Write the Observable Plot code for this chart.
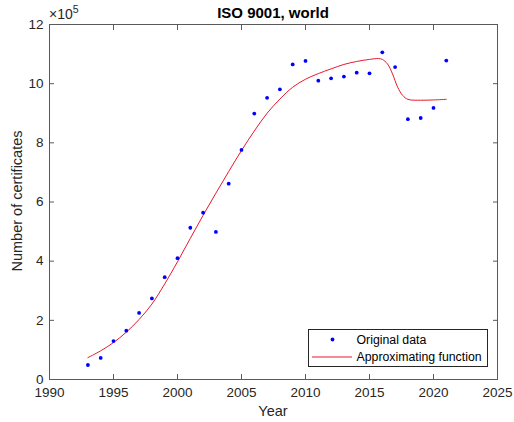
<!DOCTYPE html>
<html>
<head>
<meta charset="utf-8">
<script src="https://cdn.jsdelivr.net/npm/d3@7"></script>
<script src="https://cdn.jsdelivr.net/npm/@observablehq/plot@0.6"></script>
<style>
  html, body { margin: 0; padding: 0; background: #fff; }
  svg { display: block; }
</style>
</head>
<body>
<div id="chart"></div>
<script>
// Original data (number of ISO 9001 certificates, world)
const years = [1993,1994,1995,1996,1997,1998,1999,2000,2001,2002,2003,2004,2005,2006,2007,2008,2009,2010,2011,2012,2013,2014,2015,2016,2017,2018,2019,2020,2021];
const certificates = [49000,73000,130000,165000,225000,274000,346000,410000,513000,564000,499000,662000,776000,899000,952000,981000,1065000,1077000,1010000,1018000,1024000,1037000,1035000,1106000,1056000,880000,884000,918000,1078000];

// Approximating function
const fitYears = [1993,1994,1995,1996,1997,1998,1999,2000,2001,2002,2003,2004,2005,2006,2007,2008,2009,2010,2011,2012,2013,2014,2015,2015.7,2016,2016.4,2016.8,2017.2,2017.6,2018,2019,2020,2021];
const fitValues = [74000,97000,125000,160000,203000,255000,323000,398000,477000,555000,630000,703000,774000,840000,900000,948000,988000,1015000,1034000,1050000,1065000,1075000,1082000,1085000,1082000,1067000,1033000,988000,960000,947000,944000,945000,947000];

// Axis ticks
const xTicks = [1990,1995,2000,2005,2010,2015,2020,2025];
const yTicks = [0,200000,400000,600000,800000,1000000,1200000];

const points = years.map((y, i) => ({year: y, value: certificates[i]}));
const fit = fitYears.map((y, i) => ({year: y, value: fitValues[i]}));

const font = "Arial, 'Liberation Sans', Helvetica, sans-serif";
const axisColor = "#5a5a5a";
const textColor = "#262626";

const chart = Plot.plot({
  width: 514,
  height: 422,
  marginLeft: 49,
  marginRight: 17,
  marginTop: 24,
  marginBottom: 43,
  style: {fontFamily: font, fontSize: "13.5px", color: textColor, background: "#fff", overflow: "visible"},
  x: {domain: [1990, 2025]},
  y: {domain: [0, 1200000]},
  marks: [
    Plot.frame({stroke: axisColor, strokeWidth: 1}),
    Plot.axisX(xTicks, {anchor: "bottom", tickSize: -5, tickPadding: 13, stroke: axisColor, fill: textColor, tickFormat: d => String(d), label: null}),
    Plot.axisX(xTicks, {anchor: "top", tickSize: -5, stroke: axisColor, tickFormat: () => "", label: null}),
    Plot.axisY(yTicks, {anchor: "left", tickSize: -5, tickPadding: 11, stroke: axisColor, fill: textColor, tickFormat: d => String(d / 100000), label: null}),
    Plot.axisY(yTicks, {anchor: "right", tickSize: -5, stroke: axisColor, tickFormat: () => "", label: null}),
    Plot.line(fit, {x: "year", y: "value", stroke: "#e8192c", strokeWidth: 1, curve: "catmull-rom"}),
    Plot.dot(points, {x: "year", y: "value", r: 1.9, fill: "#0000ff", stroke: "none"})
  ]
});

document.getElementById("chart").appendChild(chart);

const svg = d3.select(chart);
// Title
svg.append("text")
  .attr("x", 273).attr("y", 18)
  .attr("text-anchor", "middle")
  .attr("font-family", font).attr("font-size", 15).attr("font-weight", "bold")
  .attr("fill", "#000")
  .text("ISO 9001, world");
// Exponent label
const ex = svg.append("text")
  .attr("x", 49).attr("y", 19)
  .attr("text-anchor", "start")
  .attr("font-family", font).attr("font-size", 14)
  .attr("fill", textColor);
ex.append("tspan").text("\u00d710");
ex.append("tspan").attr("dy", -6).attr("font-size", 10.5).text("5");
// Axis labels
svg.append("text")
  .attr("x", 273).attr("y", 416)
  .attr("text-anchor", "middle")
  .attr("font-family", font).attr("font-size", 14.5)
  .attr("fill", textColor)
  .text("Year");
svg.append("text")
  .attr("transform", "translate(22,201) rotate(-90)")
  .attr("text-anchor", "middle")
  .attr("font-family", font).attr("font-size", 14.5)
  .attr("fill", textColor)
  .text("Number of certificates");
// Legend
const lg = svg.append("g").attr("text-anchor", "start");
lg.append("rect")
  .attr("x", 308.5).attr("y", 329.5).attr("width", 179).attr("height", 37)
  .attr("fill", "#fff").attr("stroke", "#262626").attr("stroke-width", 1);
lg.append("circle").attr("cx", 332.5).attr("cy", 339.5).attr("r", 1.9).attr("fill", "#0000ff");
lg.append("line").attr("x1", 312).attr("x2", 352).attr("y1", 357).attr("y2", 357)
  .attr("stroke", "#e8192c").attr("stroke-width", 1);
lg.append("text").attr("x", 356.5).attr("y", 344).attr("text-anchor", "start")
  .attr("font-family", font).attr("font-size", 12.3).attr("fill", "#000")
  .text("Original data");
lg.append("text").attr("x", 356.5).attr("y", 361).attr("text-anchor", "start")
  .attr("font-family", font).attr("font-size", 12.3).attr("fill", "#000")
  .text("Approximating function");
</script>
</body>
</html>
